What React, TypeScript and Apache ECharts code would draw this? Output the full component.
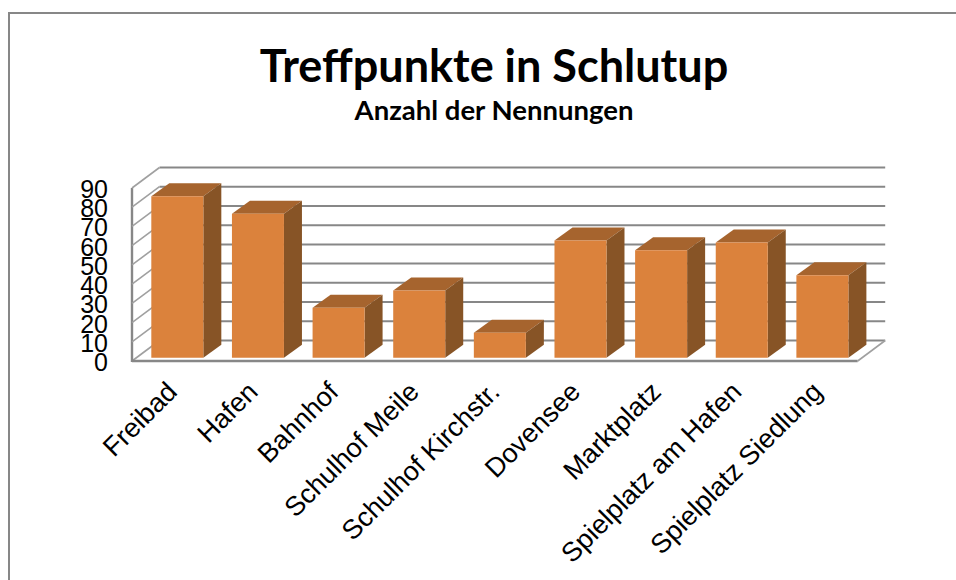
import React, { useEffect, useRef } from "react";
import * as echarts from "echarts";

const categories = ["Freibad", "Hafen", "Bahnhof", "Schulhof Meile", "Schulhof Kirchstr.", "Dovensee", "Marktplatz", "Spielplatz am Hafen", "Spielplatz Siedlung"];
const values = [84, 75, 26, 35, 13, 61, 56, 60, 43];
const yTicks = [0, 10, 20, 30, 40, 50, 60, 70, 80, 90];

const WALL_DX = 27.5;
const WALL_DY = 20.5;
const BAR_DX = 18;
const BAR_DY = 13;
const BAR_SHIFT_X = 5;
const BAR_SHIFT_Y = 3.2;
const BAR_RATIO = 0.645;
const LABEL_GAP = 24;
const GRID = "#878787";

const wallItem = (params: any, api: any) => {
  const tick = api.value(1);
  const c = params.coordSys;
  const y = api.coord([0, tick])[1];
  const x0 = c.x;
  const x1 = c.x + c.width;
  const children: any[] = [
    { type: "line", shape: { x1: x0 + WALL_DX, y1: y - WALL_DY, x2: x1 + WALL_DX, y2: y - WALL_DY }, style: { stroke: GRID, lineWidth: 2 } },
    { type: "line", shape: { x1: x0, y1: y, x2: x0 + WALL_DX, y2: y - WALL_DY }, style: { stroke: "#a0a0a0", lineWidth: 1.6 } },
    {
      type: "text",
      x: x0 - LABEL_GAP,
      y: y + 1,
      style: {
        text: String(tick),
        fill: "#000",
        font: '25px "Liberation Sans"',
        align: "right",
        verticalAlign: "middle",
      },
    },
  ];
  if (tick === 0) {
    children.push(
      { type: "line", shape: { x1: x0, y1: y, x2: x1, y2: y }, style: { stroke: GRID, lineWidth: 2.4 } },
      { type: "line", shape: { x1: x1, y1: y, x2: x1 + WALL_DX, y2: y - WALL_DY }, style: { stroke: "#a0a0a0", lineWidth: 1.6 } },
      { type: "line", shape: { x1: x0, y1: y + 1, x2: x0, y2: c.y }, style: { stroke: GRID, lineWidth: 2.4 } }
    );
  }
  return { type: "group", children };
};

const barItem = (_: any, api: any) => {
  const idx = api.value(0);
  const top = api.coord([idx, api.value(1)]);
  const base = api.coord([idx, 0]);
  const w = api.size([1, 0])[0] * BAR_RATIO;
  const l = top[0] - w / 2 + BAR_SHIFT_X;
  const r = l + w;
  const t = top[1] - BAR_SHIFT_Y;
  const b = base[1] - BAR_SHIFT_Y;
  return {
    type: "group",
    children: [
      { type: "polygon", shape: { points: [[l, t], [r, t], [r + BAR_DX, t - BAR_DY], [l + BAR_DX, t - BAR_DY]] }, style: { fill: "#a6642e" } },
      { type: "polygon", shape: { points: [[r, t], [r + BAR_DX, t - BAR_DY], [r + BAR_DX, b - BAR_DY], [r, b]] }, style: { fill: "#875426" } },
      { type: "rect", shape: { x: l, y: t, width: w, height: b - t }, style: { fill: "#db823c" } },
    ],
  };
};

export default function App() {
  const ref = useRef<HTMLDivElement>(null);
  useEffect(() => {
    const chart = echarts.init(ref.current!, undefined, { renderer: "svg" });
    chart.setOption({
      animation: false,
      backgroundColor: "#ffffff",
      title: [
        {
          text: "Treffpunkte in Schlutup",
          left: 489,
          top: 37,
          textAlign: "center",
          textStyle: { fontFamily: "Lato", fontWeight: "bold", fontSize: 45, color: "#000" },
        },
        {
          text: "Anzahl der Nennungen",
          left: 489,
          top: 90,
          textAlign: "center",
          textStyle: { fontFamily: "Lato", fontWeight: "bold", fontSize: 27.5, color: "#000" },
        },
      ],
      graphic: [
        { type: "rect", shape: { x: 8, y: 12, width: 2, height: 568 }, style: { fill: GRID } },
        { type: "rect", shape: { x: 8, y: 12, width: 948, height: 2 }, style: { fill: GRID } },
      ],
      grid: { left: 132, top: 188, width: 725.7, height: 173 },
      xAxis: {
        type: "category",
        data: categories,
        axisLine: { show: false },
        axisTick: { show: false },
        axisLabel: {
          interval: 0,
          rotate: 45,
          margin: 26,
          fontFamily: "Liberation Sans",
          fontSize: 27,
          color: "#000",
        },
      },
      yAxis: {
        type: "value",
        min: 0,
        max: 90,
        interval: 10,
        axisLine: { show: false },
        axisTick: { show: false },
        splitLine: { show: false },
        axisLabel: { show: false },
      },
      series: [
        {
          type: "custom",
          renderItem: wallItem,
          data: yTicks.map((t) => [0, t]),
          encode: { x: 0, y: 1 },
          silent: true,
          z: 1,
        },
        {
          type: "custom",
          renderItem: barItem,
          data: values.map((v, i) => [i, v]),
          encode: { x: 0, y: 1 },
          silent: true,
          z: 2,
        },
      ],
    });
    return () => chart.dispose();
  }, []);
  return <div ref={ref} style={{ position: "absolute", left: 0, top: 0, width: 956, height: 580 }} />;
}
